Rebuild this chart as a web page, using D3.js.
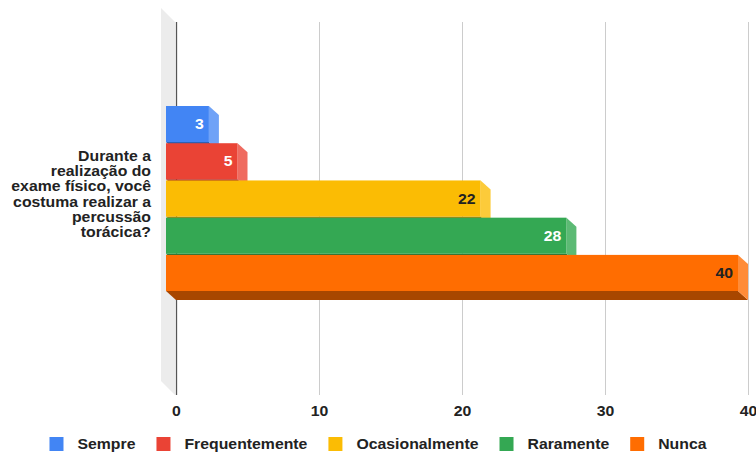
<!DOCTYPE html>
<html>
<head>
<meta charset="utf-8">
<script src="https://cdn.jsdelivr.net/npm/d3@7/dist/d3.min.js"></script>
<style>
  html, body { margin: 0; padding: 0; background: #fff; }
  svg { display: block; font-family: "Liberation Sans", Arial, sans-serif; }
</style>
</head>
<body>
<svg id="chart" width="756" height="452"></svg>
<script>
// Survey question (category) and answer counts per option
const categories = ["Durante a\nrealização do\nexame físico, você\ncostuma realizar a\npercussão\ntorácica?"];
const seriesNames = ["Sempre", "Frequentemente", "Ocasionalmente", "Raramente", "Nunca"];
const seriesValues = [3, 5, 22, 28, 40];
const tickValues = [0, 10, 20, 30, 40];

const colors = ["#4285f4", "#ea4335", "#fbbc04", "#34a853", "#ff6d01"];
const sideColors = ["#6fa2f7", "#ef6b60", "#fccb3a", "#5cba74", "#ff8c38"];
const bottomColors = ["#2d5cab", "#a32f25", "#af8303", "#24753a", "#a84700"];
const labelColors = ["#ffffff", "#ffffff", "#222222", "#ffffff", "#222222"];

const svg = d3.select("#chart");
const W = 756;
const SX = 1.13;          // horizontal stretch of the label glyphs
const FONT = 14;

// depth offset of the 3D bars (back face relative to front face)
const DX = 10, DY = 9;

const x = d3.scaleLinear().domain([0, 40]).range([176, 748]);
const y = d3.scaleBand().domain(seriesNames).range([106, 291]).paddingInner(0.03);

const plotTop = 22, plotBottom = 395;

// side wall
svg.append("polygon")
  .attr("points", [[161, 8], [175, 22], [175, plotBottom], [161, plotBottom - 14]].map(p => p.join(",")).join(" "))
  .attr("fill", "#ececec");

// vertical gridlines
svg.append("g").selectAll("line")
  .data(tickValues.filter(d => d !== 0))
  .join("line")
  .attr("x1", d => x(d) + 0.5).attr("x2", d => x(d) + 0.5)
  .attr("y1", plotTop).attr("y2", plotBottom)
  .attr("stroke", "#cccccc").attr("stroke-width", 1);

// baseline axis
svg.append("line")
  .attr("x1", x(0) + 0.5).attr("x2", x(0) + 0.5)
  .attr("y1", plotTop).attr("y2", plotBottom)
  .attr("stroke", "#555555").attr("stroke-width", 1.3);

// tick labels
const axis = d3.axisBottom(x).tickValues(tickValues).tickSize(0).tickPadding(0);
const axisG = svg.append("g").attr("transform", `translate(0, 406)`).call(axis);
axisG.select(".domain").remove();
axisG.selectAll("text")
  .attr("font-family", "Liberation Sans, Arial, sans-serif")
  .attr("font-size", FONT).attr("font-weight", "bold").attr("fill", "#222")
  .attr("transform", `scale(${SX},1)`);

// bars (front face, right side, bottom face)
const data = seriesNames.map((s, i) => ({ s, v: seriesValues[i], i }));
const bars = svg.append("g").selectAll("g").data(data).join("g");

bars.each(function (d) {
  const g = d3.select(this);
  const fx0 = x(0) - DX, fx1 = x(d.v) - DX;
  const fy0 = y(d.s), fy1 = y(d.s) + y.bandwidth();
  g.append("polygon")
    .attr("points", [[fx0, fy1], [fx1, fy1], [fx1 + DX, fy1 + DY], [fx0 + DX, fy1 + DY]].map(p => p.join(",")).join(" "))
    .attr("fill", bottomColors[d.i]);
  g.append("polygon")
    .attr("points", [[fx1, fy0], [fx1 + DX, fy0 + DY], [fx1 + DX, fy1 + DY], [fx1, fy1]].map(p => p.join(",")).join(" "))
    .attr("fill", sideColors[d.i]);
  g.append("rect")
    .attr("x", fx0).attr("y", fy0)
    .attr("width", fx1 - fx0).attr("height", fy1 - fy0)
    .attr("fill", colors[d.i]);
  g.append("text")
    .attr("transform", `translate(${fx1 - 5},${(fy0 + fy1) / 2}) scale(${SX},1)`)
    .attr("dy", "0.36em")
    .attr("text-anchor", "end")
    .attr("font-size", FONT).attr("font-weight", "bold")
    .attr("fill", labelColors[d.i])
    .text(d.v);
});

// category label, one text per line
const lines = categories[0].split("\n");
const lineH = 15.3;
const midY = 194;
svg.append("g").selectAll("text").data(lines).join("text")
  .attr("text-anchor", "end")
  .attr("font-size", FONT).attr("font-weight", "bold").attr("fill", "#222")
  .attr("transform", (d, i) => `translate(151,${midY + (i - (lines.length - 1) / 2) * lineH + 5}) scale(${SX},1)`)
  .text(d => d);

// legend
const legend = svg.append("g");
const items = legend.selectAll("g").data(seriesNames).join("g");
items.append("rect").attr("width", 14).attr("height", 14).attr("y", 437).attr("fill", (d, i) => colors[i]);
items.append("text")
  .attr("transform", `translate(28,449) scale(${SX},1)`)
  .attr("font-size", FONT).attr("font-weight", "bold").attr("fill", "#222")
  .text(d => d);
const widths = [];
items.each(function () {
  widths.push(d3.select(this).select("text").node().getComputedTextLength() * SX);
});
const gap = 21;
const total = widths.reduce((a, w) => a + 28 + w, 0) + gap * (widths.length - 1);
let cx = (W - total) / 2;
items.attr("transform", (d, i) => {
  const t = `translate(${cx},0)`;
  cx += 28 + widths[i] + gap;
  return t;
});
</script>
</body>
</html>
